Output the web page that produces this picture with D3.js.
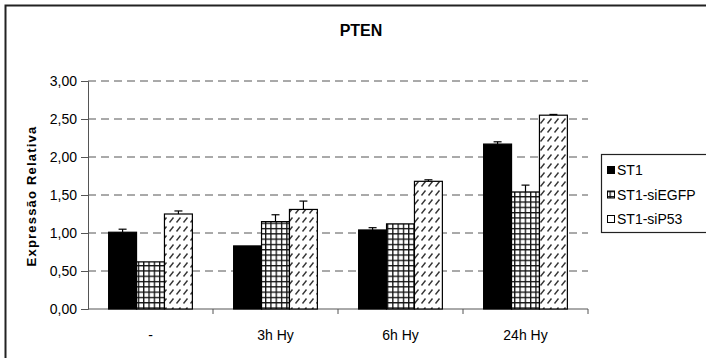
<!DOCTYPE html>
<html><head><meta charset="utf-8">
<script src="https://cdn.jsdelivr.net/npm/d3@7"></script>
<style>
body{margin:0;background:#fff;}
svg text{font-family:"Liberation Sans",Arial,sans-serif;fill:#000;}
</style></head>
<body><svg id="c" width="706" height="358"></svg>
<script>
const categories = ["-", "3h Hy", "6h Hy", "24h Hy"];
const seriesNames = ["ST1", "ST1-siEGFP", "ST1-siP53"];
const st1 = [1.01, 0.83, 1.04, 2.17];
const st1Err = [0.04, 0.00, 0.03, 0.03];
const siEGFP = [0.62, 1.15, 1.12, 1.54];
const siEGFPErr = [0.00, 0.09, 0.00, 0.09];
const siP53 = [1.25, 1.31, 1.68, 2.55];
const siP53Err = [0.04, 0.11, 0.02, 0.01];
const yTicks = [0, 0.5, 1, 1.5, 2, 2.5, 3];

const values = [st1, siEGFP, siP53];
const errors = [st1Err, siEGFPErr, siP53Err];

const svg = d3.select("#c");
const defs = svg.append("defs");

const pg = defs.append("pattern").attr("id","grid").attr("patternUnits","userSpaceOnUse")
  .attr("width",5.3).attr("height",5.3);
pg.append("rect").attr("width",5.3).attr("height",5.3).attr("fill","#fff");
pg.append("path").attr("d","M0,0.6H5.3M0.6,0V5.3").attr("stroke","#111").attr("stroke-width",1.4);

const ph = defs.append("pattern").attr("id","hatch").attr("patternUnits","userSpaceOnUse")
  .attr("width",7).attr("height",9);
ph.append("rect").attr("width",7).attr("height",9).attr("fill","#fff");
ph.append("path").attr("d","M1.5,6.5L5.5,1.5").attr("stroke","#333").attr("stroke-width",1.4);

const fills = ["#000", "url(#grid)", "url(#hatch)"];

const x0 = d3.scaleBand().domain(categories).range([88, 588]).paddingInner(0.33).paddingOuter(0.165);
const x1 = d3.scaleBand().domain(seriesNames).range([0, x0.bandwidth()]);
const y = d3.scaleLinear().domain([0, 3]).range([309, 81]);

svg.append("rect").attr("x",5.5).attr("y",5.5).attr("width",720).attr("height",380)
  .attr("fill","none").attr("stroke","#222").attr("stroke-width",2);

svg.append("text").attr("x",361).attr("y",36).attr("text-anchor","middle")
  .attr("font-size",16).attr("font-weight","bold").text("PTEN");

svg.append("g").selectAll("line").data(yTicks.filter(d=>d>0)).join("line")
  .attr("x1",88).attr("x2",588).attr("y1",d=>y(d)).attr("y2",d=>y(d))
  .attr("stroke","#555").attr("stroke-width",1).attr("stroke-dasharray","8,5");

const yAxis = svg.append("g").attr("transform","translate(88,0)")
  .call(d3.axisLeft(y).tickValues(yTicks).tickSize(7).tickPadding(4)
    .tickFormat(d=>d3.format(".2f")(d).replace(".",",")));
yAxis.select(".domain").attr("stroke","#555");
yAxis.selectAll(".tick line").attr("stroke","#555");
yAxis.selectAll("text").attr("font-size",14).attr("font-family","Liberation Sans, Arial, sans-serif").attr("fill","#000");

const xAxis = svg.append("g").attr("transform","translate(0,309)")
  .call(d3.axisBottom(x0).tickSize(0).tickPadding(21));
xAxis.select(".domain").remove();
xAxis.append("line").attr("x1",88).attr("x2",588).attr("stroke","#555");
xAxis.selectAll("text").attr("font-size",14).attr("font-family","Liberation Sans, Arial, sans-serif").attr("fill","#000");
const step = x0.step();
xAxis.selectAll(".sep").data(categories).join("line").attr("class","sep")
  .attr("x1",(d,i)=>88+step*(i+1)).attr("x2",(d,i)=>88+step*(i+1))
  .attr("y1",0).attr("y2",5).attr("stroke","#555");

svg.append("text").attr("transform","translate(36,196) rotate(-90)").attr("text-anchor","middle")
  .attr("font-size",13).attr("font-weight","bold").attr("letter-spacing",1.2).text("Expressão Relativa");

seriesNames.forEach((s, si) => {
  const g = svg.append("g");
  g.selectAll("rect").data(categories).join("rect")
    .attr("x", c => x0(c) + x1(s))
    .attr("y", (c,i) => y(values[si][i]))
    .attr("width", x1.bandwidth())
    .attr("height", (c,i) => y(0) - y(values[si][i]))
    .attr("fill", fills[si]).attr("stroke","#000").attr("stroke-width",1.2);
  const e = svg.append("g");
  categories.forEach((c,i) => {
    if (errors[si][i] <= 0) return;
    const cx = x0(c) + x1(s) + x1.bandwidth()/2;
    const yt = y(values[si][i] + errors[si][i]);
    e.append("line").attr("x1",cx).attr("x2",cx).attr("y1",y(values[si][i])).attr("y2",yt).attr("stroke","#000").attr("stroke-width",1.2);
    e.append("line").attr("x1",cx-4).attr("x2",cx+4).attr("y1",yt).attr("y2",yt).attr("stroke","#000").attr("stroke-width",1.2);
  });
});

const lg = svg.append("g");
lg.append("rect").attr("x",601.5).attr("y",154.5).attr("width",120).attr("height",78)
  .attr("fill","#fff").attr("stroke","#222").attr("stroke-width",1.2);
const legFills = ["#000","url(#grid)","#fff"];
seriesNames.forEach((s,i) => {
  const cy = 170 + i*24.5;
  lg.append("rect").attr("x",607.5).attr("y",cy-3.5).attr("width",7).attr("height",7)
    .attr("fill",legFills[i]).attr("stroke","#000").attr("stroke-width",1);
  lg.append("text").attr("x",617).attr("y",cy+5).attr("font-size",14).text(s);
});
</script></body></html>
